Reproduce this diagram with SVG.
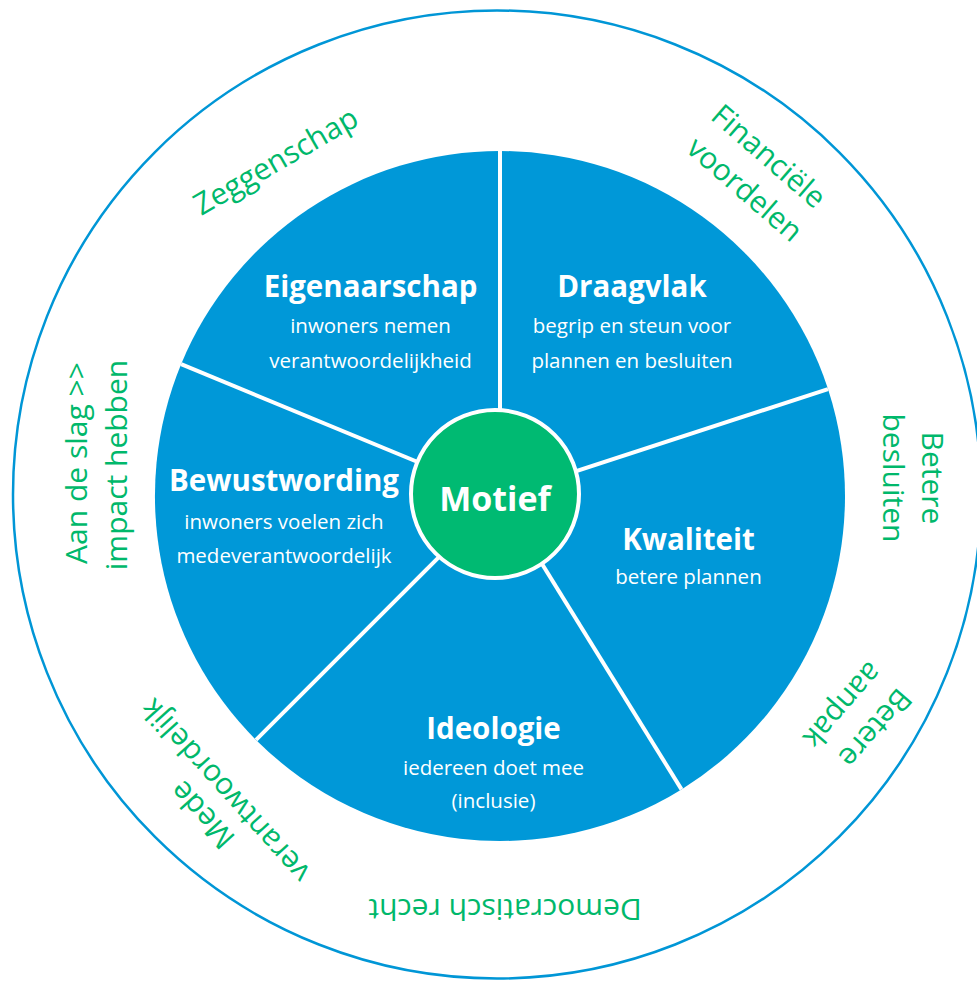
<svg xmlns="http://www.w3.org/2000/svg" width="977" height="981" viewBox="0 0 977 981">
<style>
.sector{fill:#0098D8}
.t{font-family:"Open Sans","Noto Sans","Liberation Sans",sans-serif;fill:#fff;text-anchor:middle}
.title{font-size:29.5px;font-weight:700}
.sub{font-size:20.5px}
.lbl{font-family:"Open Sans","Noto Sans","Liberation Sans",sans-serif;font-size:30px;fill:#00B86B;text-anchor:middle}
.div{stroke:#fff;stroke-width:4;fill:none}
</style>
<rect width="977" height="981" fill="#fff"/>
<circle id="ring" cx="497" cy="494.5" r="484" fill="none" stroke="#0096D6" stroke-width="2.5"/>

<g id="eigenaarschap">
<path class="sector" d="M500,496 L181.1,364.2 A345,345 0 0 1 500,151 Z"/>
<text class="t title" x="370.5" y="297">Eigenaarschap</text>
<text class="t sub" x="370.5" y="333">inwoners nemen</text>
<text class="t sub" x="370.5" y="368">verantwoordelijkheid</text>
</g>
<g id="draagvlak">
<path class="sector" d="M500,496 L500,151 A345,345 0 0 1 828,389.05 Z"/>
<text class="t title" x="632" y="297">Draagvlak</text>
<text class="t sub" x="632" y="333">begrip en steun voor</text>
<text class="t sub" x="632" y="368">plannen en besluiten</text>
</g>
<g id="kwaliteit">
<path class="sector" d="M500,496 L828,389.05 A345,345 0 0 1 681.5,789.4 Z"/>
<text class="t title" x="688.5" y="550">Kwaliteit</text>
<text class="t sub" x="688.5" y="584">betere plannen</text>
</g>
<g id="ideologie">
<path class="sector" d="M500,496 L681.5,789.4 A345,345 0 0 1 256.05,739.95 Z"/>
<text class="t title" x="493.5" y="739">Ideologie</text>
<text class="t sub" x="493.5" y="775">iedereen doet mee</text>
<text class="t sub" x="493.5" y="808">(inclusie)</text>
</g>
<g id="bewustwording">
<path class="sector" d="M500,496 L256.05,739.95 A345,345 0 0 1 181.1,364.2 Z"/>
<text class="t title" x="284" y="491">Bewustwording</text>
<text class="t sub" x="284" y="529">inwoners voelen zich</text>
<text class="t sub" x="284" y="563">medeverantwoordelijk</text>
</g>

<g id="connectors">
<line class="div" x1="500" y1="496" x2="500" y2="151"/>
<line class="div" x1="500" y1="496" x2="828" y2="389.05"/>
<line class="div" x1="500" y1="496" x2="681.5" y2="789.4"/>
<line class="div" x1="500" y1="496" x2="256.05" y2="739.95"/>
<line class="div" x1="500" y1="496" x2="181.1" y2="364.2"/>
</g>

<g id="motief">
<circle cx="495" cy="494" r="84" fill="#00BA72" stroke="#fff" stroke-width="4"/>
<text class="t" x="495" y="511" style="font-size:34px;font-weight:700">Motief</text>
</g>

<g id="label-zeggenschap">
<text class="lbl" transform="translate(281,170) rotate(-30)">Zeggenschap</text>
</g>
<g id="label-financiele">
<text class="lbl" transform="translate(762,164) rotate(41)">Financiële</text>
<text class="lbl" transform="translate(738,197) rotate(41)">voordelen</text>
</g>
<g id="label-betere-besluiten">
<text class="lbl" transform="translate(922,478) rotate(90)">Betere</text>
<text class="lbl" transform="translate(883,478) rotate(90)">besluiten</text>
</g>
<g id="label-betere-aanpak">
<text class="lbl" transform="translate(867.5,721.4) rotate(131)">Betere</text>
<text class="lbl" transform="translate(835,698.8) rotate(131)">aanpak</text>
</g>
<g id="label-democratisch">
<text class="lbl" transform="translate(505,899) rotate(180)">Democratisch recht</text>
</g>
<g id="label-mede">
<text class="lbl" transform="translate(210,808) rotate(228)">Mede</text>
<text class="lbl" transform="translate(233,784) rotate(228)">verantwoordelijk</text>
</g>
<g id="label-aan-de-slag">
<text class="lbl" transform="translate(87,463) rotate(-90)">Aan de slag &gt;&gt;</text>
<text class="lbl" transform="translate(127,465) rotate(-90)">impact hebben</text>
</g>
</svg>
